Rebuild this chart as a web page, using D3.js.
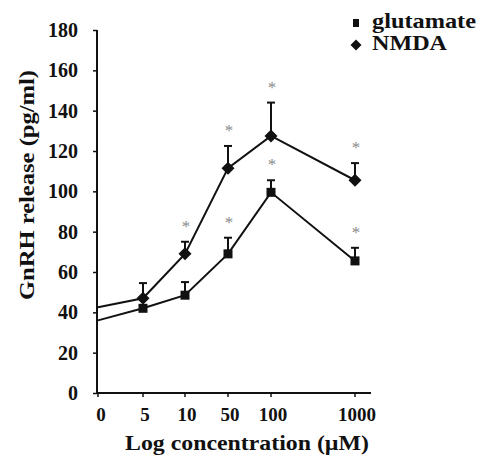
<!DOCTYPE html>
<html>
<head>
<meta charset="utf-8">
<script src="https://cdn.jsdelivr.net/npm/d3@7"></script>
<style>
  body { margin: 0; background: #fff; }
  svg text { font-family: "Liberation Serif", "DejaVu Serif", serif; font-weight: bold; fill: #111; }
</style>
</head>
<body>
<div id="chart"></div>
<script>
// concentrations (µM), shown as categories
const concentrations = ["0", "5", "10", "50", "100", "1000"];
const yTicks = [0, 20, 40, 60, 80, 100, 120, 140, 160, 180];

// mean GnRH release, pg/ml (0 point has no marker)
const glutamateMean = [36, 42, 48.5, 69, 99.5, 65.5];
const glutamateErr  = [null, 0, 6.5, 8, 6, 6.5];
const glutamateSig  = [false, false, false, true, true, true];

const nmdaMean = [42.5, 47, 69, 111.5, 127.5, 105.5];
const nmdaErr  = [null, 7.5, 6, 11, 16.5, 8.5];
const nmdaSig  = [false, false, true, true, true, true];

const W = 482, H = 456;
const svg = d3.select("#chart").append("svg").attr("width", W).attr("height", H);

const y = d3.scaleLinear().domain([0, 180]).range([393, 30]);
// categorical axis, the 1000 slot sits two steps away
const x = d3.scaleOrdinal().domain(concentrations).range([98, 143, 185, 228, 271, 355]);

// axes
const yAxis = svg.append("g").attr("transform", "translate(97,0)")
    .call(d3.axisLeft(y).tickValues(yTicks).tickSize(4).tickPadding(15));
yAxis.select(".domain").attr("stroke", "#111").attr("stroke-width", 2).attr("d", `M0,${y(0)}V${y(180)}`);
yAxis.selectAll(".tick line").attr("stroke", "#111").attr("stroke-width", 1.5);
yAxis.selectAll(".tick text").style("font-size", "20px");

const xAxis = svg.append("g").attr("transform", `translate(0,${y(0)})`);
xAxis.append("line").attr("x1", 96).attr("x2", 371).attr("stroke", "#111").attr("stroke-width", 2);
xAxis.selectAll(".xt").data(concentrations).join("g").attr("class", "xt")
  .attr("transform", d => `translate(${x(d)},0)`)
  .each(function(d, i) {
    const g = d3.select(this);
    g.append("line").attr("y2", 4).attr("stroke", "#111").attr("stroke-width", 1.5);
    g.append("text").attr("x", i === 0 ? 3 : 2).attr("y", 28).attr("text-anchor", "middle")
      .style("font-size", "19px").text(d);
  });

// axis titles
svg.append("text").attr("x", 247).attr("y", 450).attr("text-anchor", "middle")
  .attr("textLength", 244).attr("lengthAdjust", "spacingAndGlyphs")
  .style("font-size", "22px").text("Log concentration (µM)");
svg.append("text").attr("transform", "translate(34,185) rotate(-90)").attr("text-anchor", "middle")
  .attr("textLength", 230).attr("lengthAdjust", "spacingAndGlyphs")
  .style("font-size", "22px").text("GnRH release (pg/ml)");

const series = [
  { name: "glutamate", mean: glutamateMean, err: glutamateErr, sig: glutamateSig, shape: "square", legendW: 104 },
  { name: "NMDA", mean: nmdaMean, err: nmdaErr, sig: nmdaSig, shape: "diamond", legendW: 75 }
];

const line = d3.line().x((d, i) => x(concentrations[i])).y(d => y(d));

function drawMarker(g, shape, cx, cy, s) {
  if (shape === "square") {
    g.append("rect").attr("x", cx - s / 2).attr("y", cy - s / 2).attr("width", s).attr("height", s).attr("fill", "#111");
  } else {
    g.append("path").attr("d", `M${cx},${cy - s / 2}L${cx + s / 2},${cy}L${cx},${cy + s / 2}L${cx - s / 2},${cy}Z`).attr("fill", "#111");
  }
}

series.forEach(s => {
  const g = svg.append("g");
  g.append("path").datum(s.mean).attr("d", line).attr("fill", "none")
    .attr("stroke", "#111").attr("stroke-width", 2);
  s.mean.forEach((m, i) => {
    if (s.err[i] === null) return;
    const cx = x(concentrations[i]);
    const top = y(m + s.err[i]);
    if (s.err[i] > 0) {
      g.append("line").attr("x1", cx).attr("x2", cx).attr("y1", y(m)).attr("y2", top)
        .attr("stroke", "#111").attr("stroke-width", 2);
      g.append("line").attr("x1", cx - 4).attr("x2", cx + 4).attr("y1", top).attr("y2", top)
        .attr("stroke", "#111").attr("stroke-width", 2);
    }
    drawMarker(g, s.shape, cx, y(m), s.shape === "square" ? 9 : 13);
    if (s.sig[i]) {
      g.append("text").attr("x", cx + 1).attr("y", top - 10).attr("text-anchor", "middle")
        .style("font-size", "17px").style("font-weight", "normal").style("fill", "#8a8a8a").text("*");
    }
  });
});

// legend
const legend = svg.append("g");
series.forEach((s, i) => {
  const ly = 23 + i * 22;
  if (s.shape === "square") {
    legend.append("rect").attr("x", 353).attr("y", ly - 4).attr("width", 6).attr("height", 8).attr("fill", "#111");
  } else {
    drawMarker(legend, s.shape, 356, ly, 11);
  }
  legend.append("text").attr("x", 372).attr("y", ly + 5)
    .attr("textLength", s.legendW).attr("lengthAdjust", "spacingAndGlyphs")
    .style("font-size", "21px").text(s.name);
});
</script>
</body>
</html>
